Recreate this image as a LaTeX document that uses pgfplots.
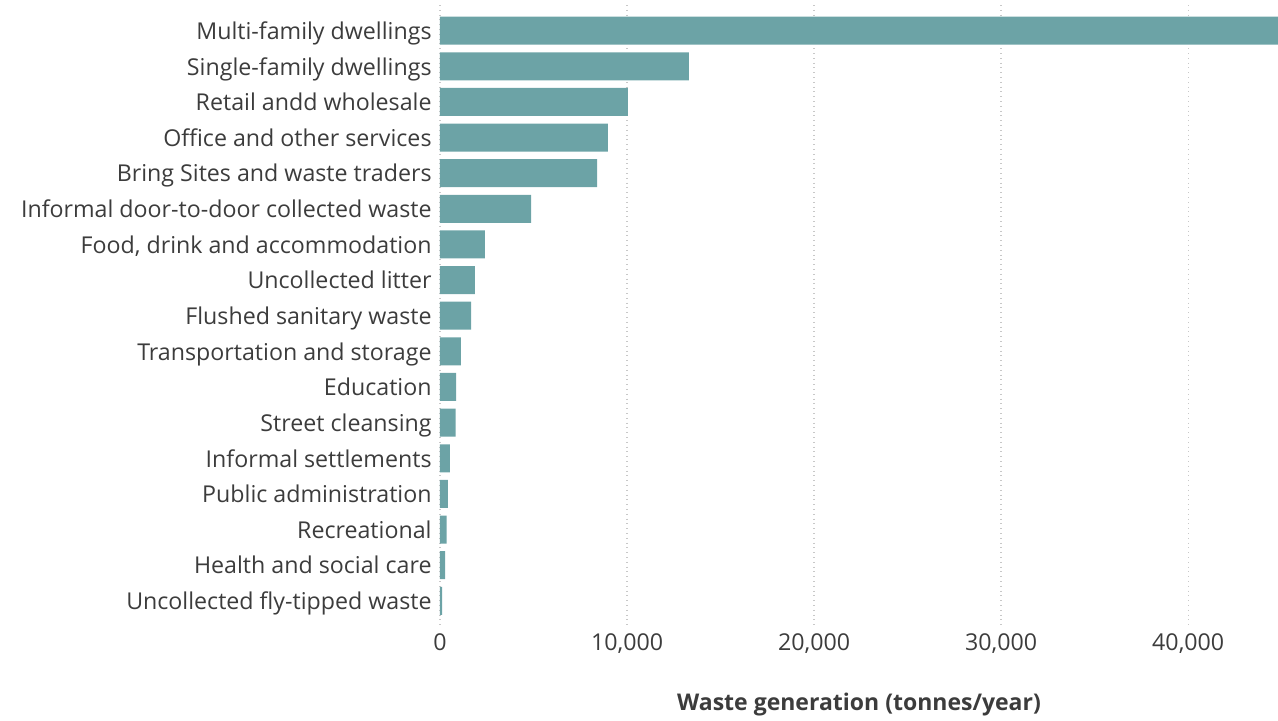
\documentclass[border=0pt]{standalone}
\usepackage{pgfplots}
\pgfplotsset{compat=1.18}
\usepackage{fontspec}
\setmainfont{Open Sans}
\definecolor{barc}{RGB}{108,163,166}
\definecolor{txt}{RGB}{60,60,60}
\definecolor{gridc}{RGB}{200,200,200}
\begin{document}
\begin{tikzpicture}
\useasboundingbox (-220pt,-47.5pt) rectangle (419pt,312.5pt);
\begin{axis}[
  at={(0,0)}, anchor=south west, scale only axis,
  width=419pt, height=310pt,
  xbar, bar width=14pt,
  xmin=0, xmax=44800, ymin=-0.72, ymax=16.68, y dir=reverse,
  ytick={0,...,16},
  yticklabels={Multi-family dwellings,Single-family dwellings,Retail andd wholesale,Office and other services,Bring Sites and waste traders,Informal door-to-door collected waste,{Food, drink and accommodation},Uncollected litter,Flushed sanitary waste,Transportation and storage,Education,Street cleansing,Informal settlements,Public administration,Recreational,Health and social care,Uncollected fly-tipped waste},
  xtick={0,10000,20000,30000,40000},
  scaled x ticks=false,
  /pgf/number format/1000 sep={,},
  /pgf/number format/assume math mode=true,
  axis line style={draw=none},
  major tick length=0pt,
  tick label style={font=\fontsize{11.6}{13}\selectfont, text=txt, inner sep=0pt},
  yticklabel style={text height=0.72em, text depth=0pt, yshift=-0.8pt},
  yticklabel shift=4pt,
  xticklabel shift=4pt,
  xmajorgrids,
  grid style={gridc, dotted, line width=0.7pt},
  xlabel={\textbf{Waste generation (tonnes/year)}},
  xlabel style={font=\fontsize{11.5}{13}\selectfont, text=txt, at={(axis description cs:0.5,0)}, anchor=center, yshift=-40pt},
  clip=true,
]
\addplot[fill=barc, draw=none] coordinates {
  (45500,0) (13300,1) (10050,2) (8980,3) (8400,4) (4870,5) (2400,6) (1870,7) (1660,8) (1120,9) (860,10) (840,11) (530,12) (420,13) (360,14) (270,15) (110,16)
};
\end{axis}
\end{tikzpicture}
\end{document}
